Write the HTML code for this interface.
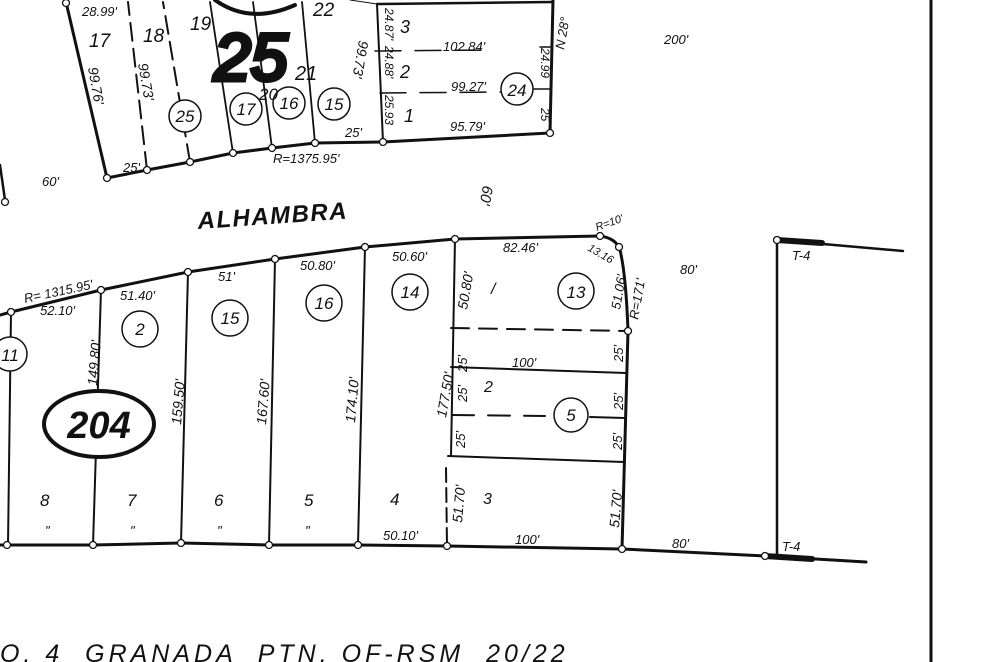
<!DOCTYPE html>
<html><head><meta charset="utf-8"><style>
html,body{margin:0;padding:0;background:#fff;}
svg{display:block;}
text{font-family:"Liberation Sans",sans-serif;font-style:italic;fill:#111;}
</style></head><body>
<svg width="986" height="662" viewBox="0 0 986 662" xmlns="http://www.w3.org/2000/svg">
<g stroke="#111" fill="none" stroke-linecap="round">
<polyline points="66,2 107,178 147,170 190,162 233,153 272,148 315,143 383,142 550,133 553,0" stroke-width="3"/>
<line x1="377" y1="4" x2="553" y2="2" stroke-width="2.5"/>
<line x1="377" y1="4" x2="383" y2="142" stroke-width="2"/>
<line x1="147" y1="170" x2="128" y2="2" stroke-width="2" stroke-dasharray="18,8"/>
<line x1="190" y1="162" x2="163" y2="2" stroke-width="2" stroke-dasharray="18,8"/>
<line x1="233" y1="153" x2="210" y2="2" stroke-width="1.8"/>
<line x1="272" y1="148" x2="253" y2="2" stroke-width="1.8"/>
<line x1="315" y1="143" x2="302" y2="2" stroke-width="1.8"/>
<line x1="377" y1="4" x2="350" y2="0" stroke-width="1"/>
<line x1="375" y1="51" x2="490" y2="50" stroke-width="1.5" stroke-dasharray="26,14"/>
<line x1="380" y1="93" x2="500" y2="92" stroke-width="1.5" stroke-dasharray="26,14"/>
<line x1="533" y1="89" x2="550" y2="89" stroke-width="1.5"/>
<line x1="540" y1="47" x2="551" y2="47" stroke-width="1.5"/>
<line x1="0" y1="165" x2="5" y2="200" stroke-width="2.5"/>
<path d="M215,0 Q250,25 295,5" stroke-width="4"/>
<polyline points="11,312 101,290 188,272 275,259 365,247 455,239 600,236" stroke-width="3"/>
<path d="M600,236 Q616,238 620,250 Q626,275 628,331 L622,549" stroke-width="3"/>
<polyline points="0,545 93,545 181,543 269,545 358,545 447,546 622,549 765,556 866,562" stroke-width="3"/>
<line x1="765" y1="556" x2="812" y2="559" stroke-width="6"/>
<line x1="0" y1="315" x2="11" y2="312" stroke-width="3"/>
<line x1="11" y1="312" x2="8" y2="545" stroke-width="2"/>
<line x1="101" y1="290" x2="93" y2="545" stroke-width="2"/>
<line x1="188" y1="272" x2="181" y2="543" stroke-width="2"/>
<line x1="275" y1="259" x2="269" y2="545" stroke-width="2"/>
<line x1="365" y1="247" x2="358" y2="545" stroke-width="2"/>
<line x1="455" y1="239" x2="451" y2="456" stroke-width="2"/>
<line x1="446" y1="468" x2="447" y2="546" stroke-width="2" stroke-dasharray="14,6"/>
<line x1="451" y1="328" x2="628" y2="331" stroke-width="2" stroke-dasharray="18,10"/>
<line x1="451" y1="367" x2="626" y2="373" stroke-width="2"/>
<line x1="452" y1="415" x2="545" y2="416" stroke-width="2" stroke-dasharray="22,14"/>
<line x1="590" y1="417" x2="625" y2="418" stroke-width="2"/>
<line x1="448" y1="456" x2="624" y2="462" stroke-width="2"/>
<line x1="777" y1="240" x2="777" y2="556" stroke-width="2.5"/>
<line x1="777" y1="240" x2="903" y2="251" stroke-width="2.5"/>
<line x1="777" y1="240" x2="822" y2="243" stroke-width="6"/>
<line x1="931" y1="0" x2="931" y2="662" stroke-width="3"/>
<ellipse cx="99" cy="424" rx="55" ry="33" stroke-width="4" fill="#fff"/>
</g>
<g stroke="#111" stroke-width="1.5" fill="#fff">
<circle cx="185" cy="116" r="16"/><circle cx="246" cy="109" r="16"/><circle cx="289" cy="103" r="16"/><circle cx="334" cy="104" r="16"/><circle cx="517" cy="89" r="16"/>
<circle cx="10" cy="354" r="17"/><circle cx="140" cy="329" r="18"/><circle cx="230" cy="318" r="18"/><circle cx="324" cy="303" r="18"/><circle cx="410" cy="292" r="18"/><circle cx="576" cy="291" r="18"/><circle cx="571" cy="415" r="17"/>
</g>
<g stroke="#111" stroke-width="1.3" fill="#fff">
<circle cx="107" cy="178" r="3.5"/><circle cx="147" cy="170" r="3.5"/><circle cx="190" cy="162" r="3.5"/><circle cx="233" cy="153" r="3.5"/><circle cx="272" cy="148" r="3.5"/><circle cx="315" cy="143" r="3.5"/><circle cx="383" cy="142" r="3.5"/><circle cx="550" cy="133" r="3.5"/><circle cx="66" cy="3" r="3.5"/><circle cx="5" cy="202" r="3.5"/>
<circle cx="11" cy="312" r="3.5"/><circle cx="101" cy="290" r="3.5"/><circle cx="188" cy="272" r="3.5"/><circle cx="275" cy="259" r="3.5"/><circle cx="365" cy="247" r="3.5"/><circle cx="455" cy="239" r="3.5"/><circle cx="600" cy="236" r="3.5"/><circle cx="619" cy="247" r="3.5"/><circle cx="628" cy="331" r="3.5"/>
<circle cx="7" cy="545" r="3.5"/><circle cx="93" cy="545" r="3.5"/><circle cx="181" cy="543" r="3.5"/><circle cx="269" cy="545" r="3.5"/><circle cx="358" cy="545" r="3.5"/><circle cx="447" cy="546" r="3.5"/><circle cx="622" cy="549" r="3.5"/><circle cx="765" cy="556" r="3.5"/><circle cx="777" cy="240" r="3.5"/>
</g>
<g font-size="13">
<text x="82" y="16">28.99'</text>
<text x="89" y="47" font-size="19">17</text><text x="143" y="42" font-size="19">18</text><text x="190" y="30" font-size="19">19</text><text x="313" y="16" font-size="19">22</text>
<text x="400" y="33" font-size="18">3</text><text x="400" y="78" font-size="18">2</text><text x="404" y="122" font-size="18">1</text>
<text x="443" y="51">102.84'</text><text x="451" y="91">99.27'</text><text x="450" y="131">95.79'</text>
<text x="345" y="137">25'</text><text x="123" y="172">25'</text><text x="273" y="163">R=1375.95'</text>
<text x="259" y="100" font-size="17">20</text><text x="295" y="80" font-size="20">21</text>
<text x="214" y="80" font-size="66" font-style="normal" fill="none" stroke="#111" stroke-width="5">25</text>
<text font-size="14" transform="translate(88,68) rotate(80)">99.76'</text>
<text font-size="14" transform="translate(138,64) rotate(80)">99.73'</text>
<text font-size="14" transform="translate(359,40) rotate(100)">99.73'</text>
<text font-size="12" transform="translate(385,8) rotate(90)">24.87'</text>
<text font-size="12" transform="translate(385,46) rotate(90)">24.88'</text>
<text font-size="12" transform="translate(385,95) rotate(90)">25.93</text>
<text font-size="12" transform="translate(541,48) rotate(90)">24.99</text>
<text font-size="12" transform="translate(541,108) rotate(90)">25</text>
<text font-size="13" transform="translate(564,50) rotate(-80)">N 28°</text>
<text x="664" y="44">200'</text>
<text x="42" y="186">60'</text>
<text font-size="15" transform="translate(483,185) rotate(100)">60'</text>
<text x="197" y="224" font-size="24" font-weight="bold" letter-spacing="1.5" transform="rotate(-4 270 210)">ALHAMBRA</text>
<text transform="translate(25,303) rotate(-12)">R= 1315.95'</text>
<text x="40" y="315">52.10'</text><text x="120" y="300">51.40'</text><text x="218" y="281">51'</text>
<text x="300" y="270">50.80'</text><text x="392" y="261">50.60'</text><text x="503" y="252">82.46'</text>
<text font-size="11" transform="translate(597,231) rotate(-20)">R=10'</text>
<text font-size="11" transform="translate(587,250) rotate(30)">13.16</text>
<text font-size="13" transform="translate(620,310) rotate(-80)">51.06'</text>
<text font-size="13" transform="translate(638,320) rotate(-80)">R=171'</text>
<text font-size="14" transform="translate(467,310) rotate(-80)">50.80'</text>
<text x="491" y="294" font-size="16">/</text>
<text x="484" y="392" font-size="16">2</text><text x="483" y="504" font-size="16">3</text>
<text x="512" y="367">100'</text><text x="515" y="544">100'</text>
<text font-size="13" transform="translate(467,372) rotate(-90)">25'</text>
<text font-size="13" transform="translate(467,402) rotate(-90)">25'</text>
<text font-size="13" transform="translate(465,448) rotate(-90)">25'</text>
<text font-size="13" transform="translate(623,362) rotate(-90)">25'</text>
<text font-size="13" transform="translate(623,410) rotate(-90)">25'</text>
<text font-size="13" transform="translate(622,450) rotate(-90)">25'</text>
<text font-size="14" transform="translate(446,418) rotate(-80)">177.50'</text>
<text font-size="14" transform="translate(462,523) rotate(-85)">51.70'</text>
<text font-size="14" transform="translate(619,528) rotate(-85)">51.70'</text>
<text font-size="14" transform="translate(97,386) rotate(-85)">149.80'</text>
<text font-size="14" transform="translate(181,425) rotate(-85)">159.50'</text>
<text font-size="14" transform="translate(266,425) rotate(-85)">167.60'</text>
<text font-size="14" transform="translate(355,423) rotate(-85)">174.10'</text>
<text x="40" y="506" font-size="17">8</text><text x="127" y="506" font-size="17">7</text><text x="214" y="506" font-size="17">6</text><text x="304" y="506" font-size="17">5</text><text x="390" y="505" font-size="17">4</text>
<text x="45" y="535">"</text><text x="130" y="535">"</text><text x="217" y="535">"</text><text x="305" y="535">"</text>
<text x="383" y="540">50.10'</text><text x="672" y="548">80'</text><text x="680" y="274">80'</text>
<text x="792" y="260" font-size="13">T-4</text><text x="782" y="551" font-size="13">T-4</text>
<text x="0" y="662" font-size="25" letter-spacing="4">O. 4 &#160;GRANADA &#160;PTN. OF-RSM &#160;20/22</text>
</g>
<g font-size="17" text-anchor="middle" font-style="normal">
<text x="185" y="122">25</text><text x="246" y="115">17</text><text x="289" y="109">16</text><text x="334" y="110">15</text><text x="517" y="96">24</text>
<text x="10" y="361">11</text><text x="140" y="335">2</text><text x="230" y="324">15</text><text x="324" y="309">16</text><text x="410" y="298">14</text><text x="576" y="298">13</text><text x="571" y="421">5</text>
<text x="99" y="438" font-size="38" font-weight="bold">204</text>
</g>
</svg>
</body></html>
